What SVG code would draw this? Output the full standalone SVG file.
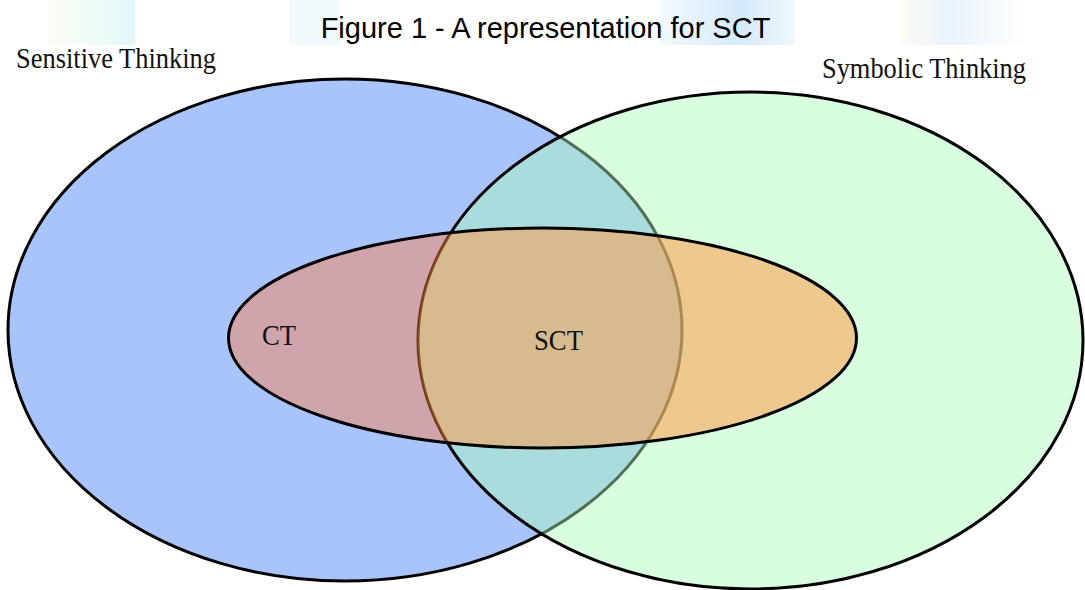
<svg xmlns="http://www.w3.org/2000/svg" width="1085" height="590" viewBox="0 0 1085 590">
  <defs>
    <linearGradient id="bandA" x1="0" y1="0" x2="1" y2="0">
      <stop offset="0" stop-color="#fbfdf3"/>
      <stop offset="0.5" stop-color="#eefcf6"/>
      <stop offset="1" stop-color="#e2f7fb"/>
    </linearGradient>
    <linearGradient id="bandB" x1="0" y1="0" x2="1" y2="0">
      <stop offset="0" stop-color="#f2f9fd"/>
      <stop offset="0.6" stop-color="#d6eafb"/>
      <stop offset="1" stop-color="#eef8fd"/>
    </linearGradient>
    <linearGradient id="bandC" x1="0" y1="0" x2="1" y2="0">
      <stop offset="0" stop-color="#fdfbf5"/>
      <stop offset="0.4" stop-color="#e8f3fc"/>
      <stop offset="0.7" stop-color="#f5fafd"/>
      <stop offset="1" stop-color="#ffffff"/>
    </linearGradient>
    <clipPath id="greenClip">
      <ellipse cx="750.5" cy="340.5" rx="332.5" ry="248.5"/>
    </clipPath>
  </defs>
  <style>
    .set { stroke: #000; stroke-width: 3; }
    .lbl { font-family: "Liberation Serif", "Times New Roman", serif; fill: #111; }
    .title { font-family: "Liberation Sans", Arial, sans-serif; font-size: 29px; fill: #000; }
  </style>
  <rect width="1085" height="590" fill="#ffffff"/>
  <g id="background-bands">
    <rect x="48" y="0" width="87" height="45" fill="url(#bandA)"/>
    <rect x="290" y="0" width="50" height="45" fill="#f1f9fd"/>
    <rect x="660" y="0" width="135" height="45" fill="url(#bandB)"/>
    <rect x="900" y="0" width="130" height="45" fill="url(#bandC)"/>
  </g>
  <text class="title" x="545.5" y="38" text-anchor="middle">Figure 1 - A representation for SCT</text>
  <g id="sensitive-thinking">
    <ellipse class="set" cx="345" cy="330" rx="337" ry="251" fill="#a9c3fb"/>
    <text class="lbl" x="16" y="68" font-size="29" textLength="200" lengthAdjust="spacingAndGlyphs">Sensitive Thinking</text>
  </g>
  <g id="symbolic-thinking">
    <ellipse class="set" cx="750.5" cy="340.5" rx="332.5" ry="248.5" fill="#abfbb8" fill-opacity="0.45"/>
    <text class="lbl" x="822" y="78" font-size="29" textLength="204" lengthAdjust="spacingAndGlyphs">Symbolic Thinking</text>
  </g>
  <g id="ct">
    <ellipse cx="542.5" cy="338" rx="314" ry="110" fill="#ff7d43" fill-opacity="0.44"/>
    <ellipse cx="542.5" cy="338" rx="314" ry="110" fill="#ffe060" fill-opacity="0.18" clip-path="url(#greenClip)"/>
    <ellipse class="set" cx="542.5" cy="338" rx="314" ry="110" fill="none"/>
    <text class="lbl" x="262" y="345" font-size="29" textLength="34" lengthAdjust="spacingAndGlyphs">CT</text>
  </g>
  <g id="sct">
    <text class="lbl" x="534" y="350" font-size="29" textLength="49" lengthAdjust="spacingAndGlyphs">SCT</text>
  </g>
  <g id="connectors"/>
</svg>
